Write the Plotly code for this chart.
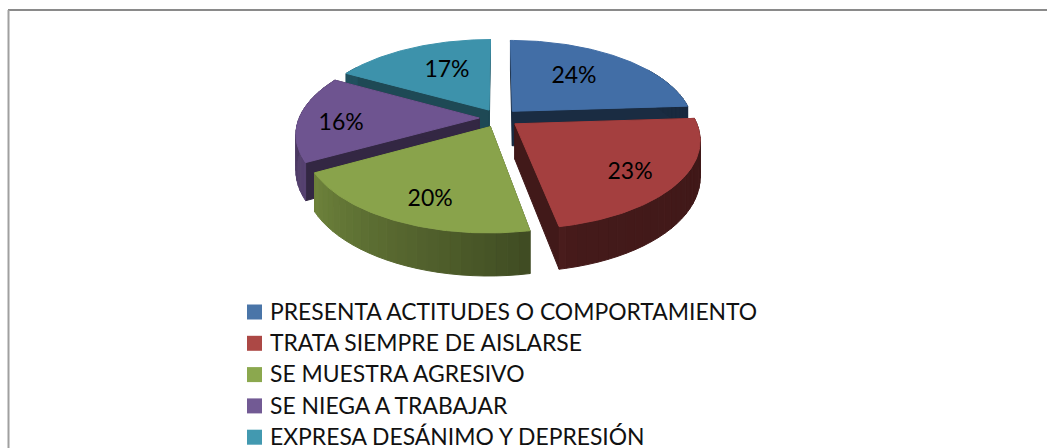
import numpy as np
import plotly.graph_objects as go

categories = ["PRESENTA ACTITUDES O COMPORTAMIENTO", "TRATA SIEMPRE DE AISLARSE",
              "SE MUESTRA AGRESIVO", "SE NIEGA A TRABAJAR", "EXPRESA DESÁNIMO Y DEPRESIÓN"]
values = [24, 23, 20, 16, 17]
labels = ["24%", "23%", "20%", "16%", "17%"]
top_colors = [(66, 110, 166), (164, 63, 63), (137, 163, 75), (110, 84, 144), (61, 146, 171)]
legend_colors = ["#4A75A8", "#AC4845", "#8BA84E", "#725A94", "#4299B0"]

CX, CY, RX, RY, K, H, EXPLODE = 499, 118, 180, 85, 0.17, 35, 0.11
LABEL_R = [0.58, 0.77, 0.78, 0.76, 0.57]
LABEL_DA = [-2.5, 4.6, -4, -5.2, 3.2]
RADIAL = [0.4, 0.4, 0.4, 0.47, 0.5]
SHADE_ANG = [0, 86, 165, 172, 240, 300, 360]
SHADE_VAL = [0.4, 0.38, 0.42, 0.48, 0.8, 0.55, 0.55]
FONT = "Lato, Carlito, sans-serif"


def project(u, v, down=0.0):
    s = 1 / (1 + K * v)
    return CX + RX * u * s, CY - RY * v * s + down * s


def scale(c, f):
    return "rgb(%d,%d,%d)" % tuple(int(x * f) for x in c)


def poly(fig, xs, ys, color):
    fig.add_trace(go.Scatter(x=xs, y=ys, mode="lines", fill="toself", fillcolor=color,
                             line=dict(color=color, width=1), hoverinfo="skip", showlegend=False))


fig = go.Figure()
total = sum(values)
edges = np.concatenate([[0], np.cumsum(values)]) / total * 360
geo = {}
for i in range(len(values)):
    a0, a1 = edges[i], edges[i + 1]
    mid = np.radians((a0 + a1) / 2)
    geo[i] = (a0, a1, EXPLODE * np.sin(mid), EXPLODE * np.cos(mid), (a0 + a1) / 2)

for i in [4, 0, 3, 1, 2]:
    a0, a1, ou, ov, amid = geo[i]
    c = top_colors[i]
    th = np.radians(np.linspace(a0, a1, 80))
    us = ou + np.sin(th)
    vs = ov + np.cos(th)
    # radial walls
    for a in (a0, a1):
        t = np.radians(a)
        u2, v2 = ou + np.sin(t), ov + np.cos(t)
        p = [project(ou, ov), project(u2, v2), project(u2, v2, H), project(ou, ov, H)]
        poly(fig, [q[0] for q in p] + [p[0][0]], [q[1] for q in p] + [p[0][1]], scale(c, RADIAL[i]))
    # outer wall, banded
    steps = np.arange(a0, a1 + 0.01, 3.0)
    if steps[-1] < a1:
        steps = np.append(steps, a1)
    for b0, b1 in zip(steps[:-1], steps[1:]):
        bm = (b0 + b1) / 2
        if np.cos(np.radians(bm)) > 0.55:
            continue
        t0, t1 = np.radians(b0), np.radians(b1)
        p = [project(ou + np.sin(t0), ov + np.cos(t0)), project(ou + np.sin(t1), ov + np.cos(t1)),
             project(ou + np.sin(t1), ov + np.cos(t1), H), project(ou + np.sin(t0), ov + np.cos(t0), H)]
        f = float(np.interp(bm, SHADE_ANG, SHADE_VAL))
        poly(fig, [q[0] for q in p] + [p[0][0]], [q[1] for q in p] + [p[0][1]], scale(c, f))
    # top face
    px, py = project(np.concatenate([[ou], us, [ou]]), np.concatenate([[ov], vs, [ov]]))
    poly(fig, px, py, scale(c, 1.0))

# percentage labels
for i, lab in enumerate(labels):
    a0, a1, ou, ov, amid = geo[i]
    t = np.radians(amid + LABEL_DA[i])
    x, y = project(ou + LABEL_R[i] * np.sin(t), ov + LABEL_R[i] * np.cos(t))
    fig.add_trace(go.Scatter(x=[x], y=[y], mode="text", text=[lab], textposition="middle center",
                             textfont=dict(family=FONT, size=23, color="#000000"),
                             hoverinfo="skip", showlegend=False))

# legend
LEG_Y0, LEG_DY = 312, 31.3
for i, name in enumerate(categories):
    y = LEG_Y0 + LEG_DY * i
    fig.add_trace(go.Scatter(x=[254.5], y=[y], mode="markers",
                             marker=dict(symbol="square", size=15, color=legend_colors[i]),
                             name=name, showlegend=False))
    fig.add_trace(go.Scatter(x=[270], y=[y + 2], mode="text", text=[name], textposition="middle right",
                             textfont=dict(family=FONT, size=22.9, color="#111111"),
                             hoverinfo="skip", showlegend=False))

fig.update_layout(
    width=1047, height=448, margin=dict(l=0, r=0, t=0, b=0),
    paper_bgcolor="white", plot_bgcolor="white", showlegend=False,
    xaxis=dict(range=[0, 1047], visible=False, fixedrange=True),
    yaxis=dict(range=[448, 0], visible=False, fixedrange=True),
    shapes=[
        dict(type="line", x0=8, x1=1047, y0=10, y1=10, line=dict(color="#8a8a8a", width=2)),
        dict(type="line", x0=8.5, x1=8.5, y0=10, y1=448, line=dict(color="#a0a0a0", width=2)),
    ],
)
fig.write_html("out.html", config={"displayModeBar": False},
               post_script="document.body.style.margin='0';document.body.style.overflow='hidden';")
